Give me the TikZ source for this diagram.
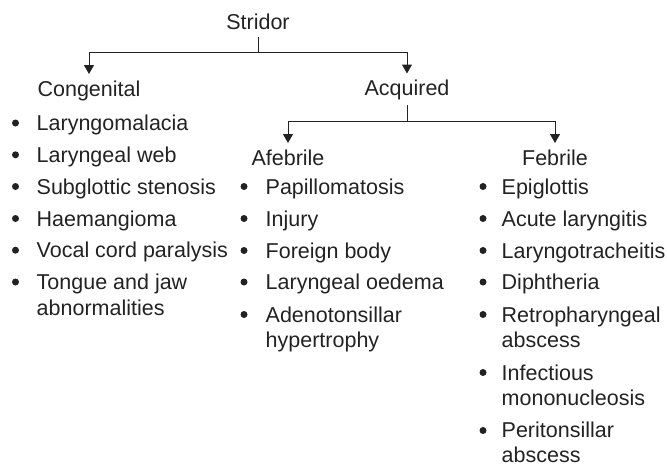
\documentclass[tikz,border=0pt]{standalone}
\usepackage{fontspec}
\setmainfont{Liberation Sans}
\usetikzlibrary{arrows.meta}
\definecolor{ink}{HTML}{222222}
\begin{document}
\begin{tikzpicture}[x=1pt,y=-1pt,
  font=\fontsize{21.5}{25.5}\selectfont,
  lbl/.style={inner sep=0pt, anchor=base, text=ink},
  item/.style={inner sep=0pt, anchor=base west, align=left, text=ink},
  dot/.style={circle, fill=ink, inner sep=0pt, minimum size=7pt},
  conn/.style={draw=ink, line width=1pt},
  arr/.style={conn, -{Triangle[width=10pt,length=9pt]}}]
\useasboundingbox (0,0) rectangle (667,466);

% headings
\node[lbl] (stridor) at (258,29) {Stridor};
\node[lbl] (cong) at (89,96) {Congenital};
\node[lbl] (acq) at (407,95.5) {Acquired};
\node[lbl] (afeb) at (288,165) {Afebrile};
\node[lbl] (feb) at (555,165) {Febrile};

% connectors
\coordinate (j1) at (258,52);
\coordinate (j2) at (407,121);
\draw[conn] ([yshift=-8pt]stridor.base) -- (j1);
\draw[arr] (j1) -| ([yshift=22pt]cong.base);
\draw[arr] (j1) -| ([yshift=22pt]acq.base);
\draw[conn] ([yshift=-9.5pt]acq.base) -- (j2);
\draw[arr] (j2) -| ([yshift=22pt]afeb.base);
\draw[arr] (j2) -| ([yshift=22pt]feb.base);

% lists: name / bullet baseline / last-line baseline / text
\foreach \n/\b/\y/\t in {1/130.5/130.5/Laryngomalacia, 2/162.3/162.3/Laryngeal web,
  3/194/194/Subglottic stenosis, 4/226/226/Haemangioma, 5/257.7/257.7/Vocal cord paralysis,
  6/289.5/315/{Tongue and jaw\\abnormalities}}{
  \node[dot] (cb\n) at (15.5,\b-7.5) {};
  \node[item] (ct\n) at (36.5,\y) {\t};
}

\foreach \n/\b/\y/\t in {1/194/194/Papillomatosis, 2/226/226/Injury, 3/258/258/Foreign body,
  4/289.5/289.5/Laryngeal oedema, 5/322/347.5/{Adenotonsillar\\hypertrophy}}{
  \node[dot] (ab\n) at (244,\b-7.5) {};
  \node[item] (at\n) at (265.5,\y) {\t};
}

\foreach \n/\b/\y/\t in {1/194/194/Epiglottis, 2/226/226/Acute laryngitis,
  3/258/258/Laryngotracheitis, 4/289.5/289.5/Diphtheria,
  5/322/347.5/{Retropharyngeal\\abscess}, 6/380/405.5/{Infectious\\mononucleosis},
  7/438/462.5/{Peritonsillar\\abscess}}{
  \node[dot] (fb\n) at (483,\b-7.5) {};
  \node[item] (ft\n) at (501.5,\y) {\t};
}
\end{tikzpicture}
\end{document}
